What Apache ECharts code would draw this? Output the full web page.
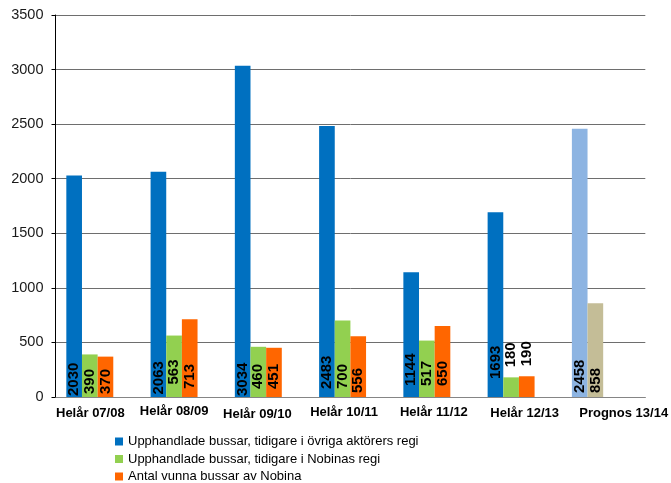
<!DOCTYPE html>
<html>
<head>
<meta charset="utf-8">
<script src="https://cdn.jsdelivr.net/npm/echarts@6/dist/echarts.min.js"></script>
<style>
  html, body { margin: 0; padding: 0; background: #fff; }
  #chart { width: 671px; height: 483px; }
</style>
</head>
<body>
<div id="chart"></div>
<script>
// Bus procurement per fiscal year
const categories = ['Helår 07/08', 'Helår 08/09', 'Helår 09/10', 'Helår 10/11', 'Helår 11/12', 'Helår 12/13', 'Prognos 13/14'];
const seriesNames = [
  'Upphandlade bussar, tidigare i övriga aktörers regi',
  'Upphandlade bussar, tidigare i Nobinas regi',
  'Antal vunna bussar av Nobina'
];
const otherOperators = [2030, 2063, 3034, 2483, 1144, 1693, 2458];
const fromNobina = [390, 563, 460, 700, 517, 180, 858];
const wonByNobina = [370, 713, 451, 556, 650, 190, null];
const yTicks = { min: 0, max: 3500, step: 500 };

// Styling
const FONT = '"Liberation Sans", Arial, sans-serif';
const colors = ['#0070C0', '#92D050', '#FF6600'];
const forecastColors = ['#8DB4E2', '#C4BD97'];
const forecastIndex = 6;
// gap between bar base and value label, per series / category ('top' = above the bar)
const labelLift = [
  [2, 3.5, 2, 9, 12, 19, 5],
  [4, 13.5, 9, 9, 12, 'top', 5],
  [4, 9, 9, 5, 12, 'top', 0]
];
// category label nudges (dx, dy)
const xLabelDx = [-7.3, -7.8, -8.8, -6.3, -0.8, 5.7, 20.5];
const xLabelDy = [2, 0, 3, 1, 1, 2, 2];

const rich = {};
categories.forEach((c, i) => {
  const dx = xLabelDx[i];
  rich['c' + i] = {
    fontFamily: FONT, fontSize: 13, fontWeight: 'bold', color: '#000',
    padding: [xLabelDy[i], dx < 0 ? -2 * dx : 0, 0, dx > 0 ? 2 * dx : 0]
  };
});

function makeSeries(values, si) {
  return {
    name: seriesNames[si],
    type: 'bar',
    barGap: '0%',
    barCategoryGap: '25.7%',
    itemStyle: { color: colors[si] },
    data: values.map((v, i) => {
      if (v == null) return '-';
      const lift = labelLift[si][i];
      const item = {
        value: v,
        label: lift === 'top'
          ? { position: 'top', distance: 10 }
          : { position: 'insideBottom', distance: lift - 1 }
      };
      if (i === forecastIndex && forecastColors[si]) {
        item.itemStyle = { color: forecastColors[si] };
      }
      return item;
    }),
    label: {
      show: true,
      rotate: 90,
      align: 'left',
      verticalAlign: 'middle',
      fontFamily: FONT,
      fontSize: 15,
      fontWeight: 'bold',
      color: '#000'
    }
  };
}

const chart = echarts.init(document.getElementById('chart'), null, { renderer: 'canvas' });
chart.setOption({
  animation: false,
  backgroundColor: '#fff',
  grid: { left: 55.5, right: 24, top: 15, bottom: 86, containLabel: false },
  legend: {
    data: seriesNames,
    orient: 'vertical',
    left: 115,
    top: 435,
    height: 60,
    padding: 0,
    itemWidth: 8,
    itemHeight: 8,
    itemGap: 4.5,
    icon: 'rect',
    textStyle: { fontFamily: FONT, fontSize: 13, color: '#000', lineHeight: 13 }
  },
  xAxis: {
    type: 'category',
    data: categories,
    axisLine: { lineStyle: { color: '#858585', width: 1 } },
    axisTick: { show: false },
    axisLabel: {
      interval: 0,
      margin: 8,
      hideOverlap: false,
      formatter: (v, i) => '{c' + i + '|' + v + '}',
      rich: rich
    }
  },
  yAxis: {
    type: 'value',
    min: yTicks.min,
    max: yTicks.max,
    interval: yTicks.step,
    axisLine: { show: true, lineStyle: { color: '#000', width: 1 } },
    axisTick: { show: true, length: 4, lineStyle: { color: '#000' } },
    axisLabel: {
      margin: 12, fontFamily: FONT, fontSize: 14.5, color: '#1a1a1a',
      formatter: (v) => String(v)
    },
    splitLine: { lineStyle: { color: '#6e6e6e', width: 1 } }
  },
  series: [
    makeSeries(otherOperators, 0),
    makeSeries(fromNobina, 1),
    makeSeries(wonByNobina, 2),
    // reserved fourth slot in each category group
    { name: 'reserv', type: 'bar', barGap: '0%', barCategoryGap: '25.7%', data: categories.map(() => '-') }
  ]
});
</script>
</body>
</html>
